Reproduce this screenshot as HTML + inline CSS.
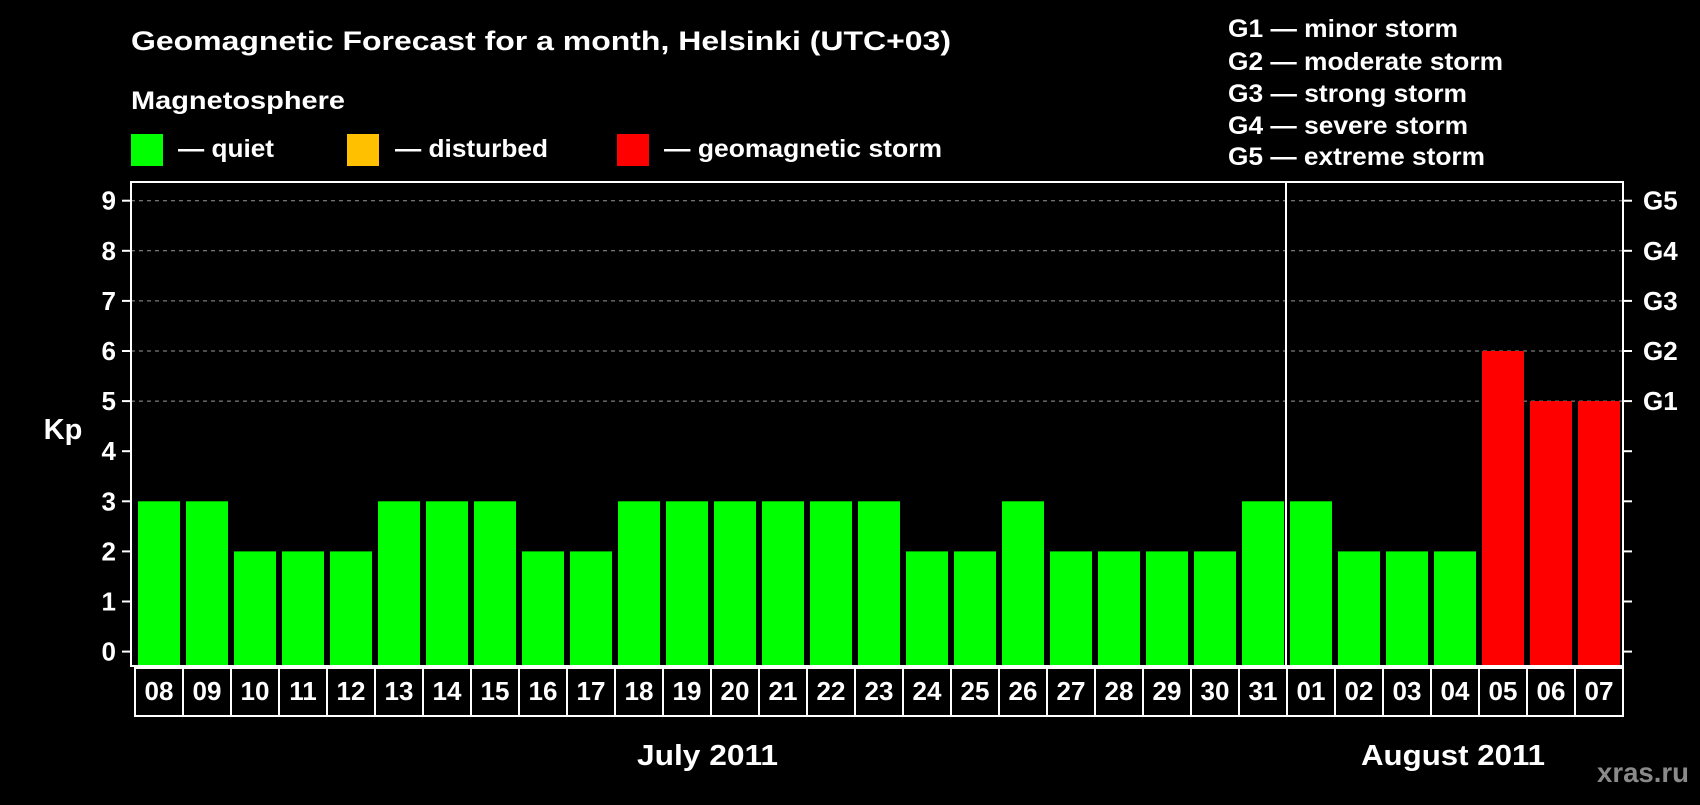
<!DOCTYPE html>
<html><head><meta charset="utf-8"><style>
body{margin:0;background:#000;width:1700px;height:800px;overflow:hidden;font-family:"Liberation Sans",sans-serif;font-weight:bold;color:#fff}
</style></head><body>
<svg id="c" width="1700" height="800" xmlns="http://www.w3.org/2000/svg" style="font-family:'Liberation Sans',sans-serif;font-weight:bold">
<rect width="1700" height="800" fill="#000"/>
<text x="131" y="50" font-size="27" fill="#fff" textLength="820" lengthAdjust="spacingAndGlyphs">Geomagnetic Forecast for a month, Helsinki (UTC+03)</text>
<text x="131" y="109" font-size="25" fill="#fff" textLength="214" lengthAdjust="spacingAndGlyphs">Magnetosphere</text>
<g><rect x="131" y="134" width="32" height="32" fill="#00ff00"/><text x="178" y="157" font-size="25" fill="#fff" textLength="96" lengthAdjust="spacingAndGlyphs">— quiet</text></g>
<g><rect x="347" y="134" width="32" height="32" fill="#ffc000"/><text x="395" y="157" font-size="25" fill="#fff" textLength="153" lengthAdjust="spacingAndGlyphs">— disturbed</text></g>
<g><rect x="617" y="134" width="32" height="32" fill="#ff0000"/><text x="664" y="157" font-size="25" fill="#fff" textLength="278" lengthAdjust="spacingAndGlyphs">— geomagnetic storm</text></g>
<g font-size="25" fill="#fff">
<text x="1228" y="37" textLength="230" lengthAdjust="spacingAndGlyphs">G1 — minor storm</text>
<text x="1228" y="70" textLength="275" lengthAdjust="spacingAndGlyphs">G2 — moderate storm</text>
<text x="1228" y="102" textLength="239" lengthAdjust="spacingAndGlyphs">G3 — strong storm</text>
<text x="1228" y="134" textLength="240" lengthAdjust="spacingAndGlyphs">G4 — severe storm</text>
<text x="1228" y="165" textLength="257" lengthAdjust="spacingAndGlyphs">G5 — extreme storm</text>
</g>
<text x="63" y="439" font-size="29" fill="#fff" text-anchor="middle">Kp</text>
<g id="plot"></g>
<text x="637" y="765" font-size="29" fill="#fff" textLength="141" lengthAdjust="spacingAndGlyphs">July 2011</text>
<text x="1361" y="765" font-size="29" fill="#fff" textLength="184" lengthAdjust="spacingAndGlyphs">August 2011</text>
<text x="1597" y="782" font-size="28" fill="#8a8a8a" textLength="92" lengthAdjust="spacingAndGlyphs">xras.ru</text>
</svg>
<script>
const days=["08","09","10","11","12","13","14","15","16","17","18","19","20","21","22","23","24","25","26","27","28","29","30","31","01","02","03","04","05","06","07"];
const kp=[3,3,2,2,2,3,3,3,2,2,3,3,3,3,3,3,2,2,3,2,2,2,2,3,3,2,2,2,6,5,5];
const yTicks=[0,1,2,3,4,5,6,7,8,9];
const gLabels=["G1","G2","G3","G4","G5"];
const gLevels=[5,6,7,8,9];
const monthSplit=24;
const NS="http://www.w3.org/2000/svg";
const P=document.getElementById('plot');
const L=131,R=1623,T=182,B=666,pitch=48,bw=42,x0=138;
function y(v){return 651.6-v*50.1;}
function xb(i){return x0+i*pitch;}
function mk(t,a){const e=document.createElementNS(NS,t);for(const k in a)e.setAttribute(k,a[k]);P.appendChild(e);return e;}
function color(v){return v>=5?'#ff0000':(v>=4?'#ffc000':'#00ff00');}
gLevels.forEach((v,i)=>{
 const g=mk('line',{x1:L,x2:R,y1:y(v),y2:y(v),stroke:'#999','stroke-dasharray':'4,4','stroke-width':1});
 
 
});
kp.forEach((v,i)=>{
 const r=mk('rect',{x:xb(i),y:y(v),width:bw,height:B-1-y(v),fill:color(v)});
 
 
});
const fr=mk('rect',{x:L,y:T,width:R-L,height:B-T,fill:'none',stroke:'#fff','stroke-width':2});


const dv=mk('line',{x1:xb(monthSplit)-4,x2:xb(monthSplit)-4,y1:T,y2:B,stroke:'#fff','stroke-width':2});


yTicks.forEach(v=>{
 const t=mk('line',{x1:L-9,x2:L,y1:y(v),y2:y(v),stroke:'#fff','stroke-width':2});
 
 
 const t2=mk('line',{x1:R,x2:R+9,y1:y(v),y2:y(v),stroke:'#fff','stroke-width':2});
 
 
 const tx=mk('text',{x:116,y:y(v)+9,'font-size':26,fill:'#fff','text-anchor':'end'});
 tx.textContent=v;
 
 
});
gLabels.forEach((g,i)=>{
 const tx=mk('text',{x:1643,y:y(gLevels[i])+9,'font-size':26,fill:'#fff'});
 tx.textContent=g;
 
 
});
days.forEach((d,i)=>{
 const bx=mk('rect',{x:135+i*pitch,y:668,width:pitch,height:48,fill:'none',stroke:'#fff','stroke-width':2});
 
 
 const tx=mk('text',{x:135+i*pitch+pitch/2,y:700,'font-size':26,fill:'#fff','text-anchor':'middle'});
 tx.textContent=d;
 
 
});
</script>
</body></html>
